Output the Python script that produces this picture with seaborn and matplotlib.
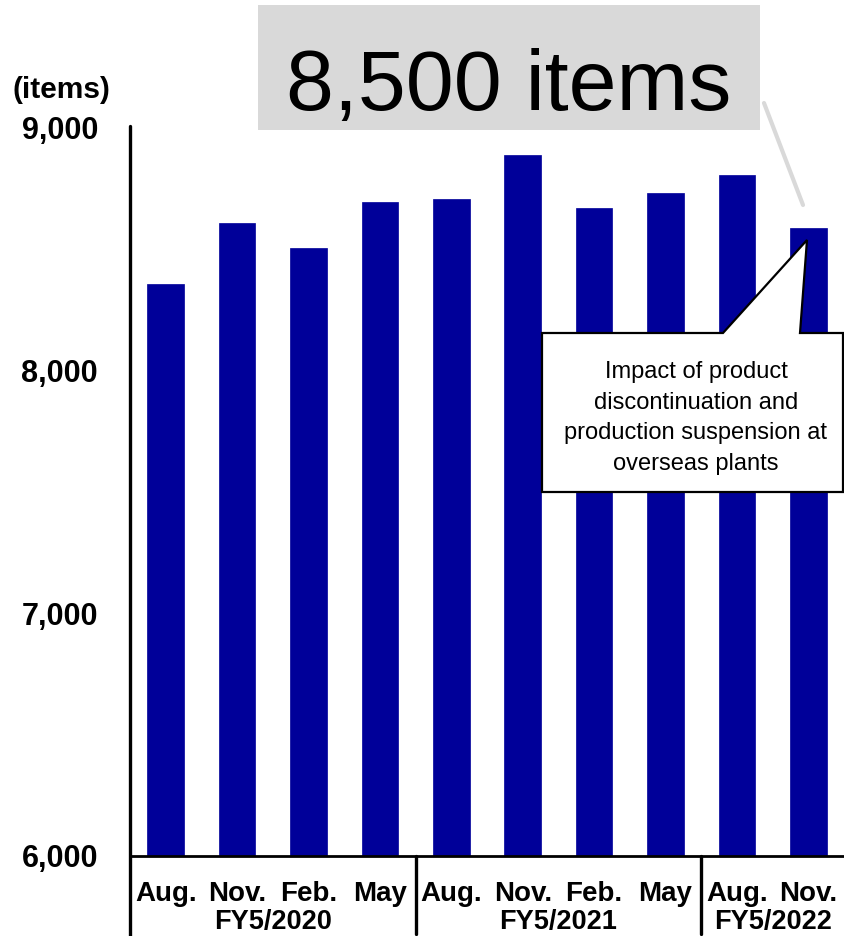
import matplotlib
matplotlib.use("Agg")
import matplotlib.pyplot as plt
import pandas as pd
import seaborn as sns
from matplotlib.lines import Line2D
from matplotlib.patches import Polygon, Rectangle
from matplotlib.transforms import blended_transform_factory

# Number of items handled, quarter-end figures
months = ["Aug.", "Nov.", "Feb.", "May", "Aug.", "Nov.", "Feb.", "May", "Aug.", "Nov."]
fiscal_years = ["FY5/2020", "FY5/2021", "FY5/2022"]
year_of_slot = [0, 0, 0, 0, 1, 1, 1, 1, 2, 2]
items = [8358, 8609, 8506, 8695, 8708, 8889, 8671, 8733, 8807, 8588]
y_ticks = [6000, 7000, 8000, 9000]
unit_label = "(items)"
headline = "8,500 items"
note = "Impact of product\ndiscontinuation and\nproduction suspension at\noverseas plants"

W, H = 844, 936
BAR_COLOR = "#000099"

sns.set_style("white")
plt.rcParams["font.family"] = ["Liberation Sans", "DejaVu Sans"]
plt.rcParams["text.color"] = "black"
plt.rcParams["xtick.color"] = "black"
plt.rcParams["ytick.color"] = "black"


def fx(px):
    return px / W


def fy(py):
    return 1 - py / H


fig = plt.figure(figsize=(W / 100, H / 100), dpi=100)
ax = fig.add_axes([fx(130), fy(856), fx(844) - fx(130), fy(128) - fy(856)])

df = pd.DataFrame({"slot": list(range(len(items))), "items": items})
sns.barplot(data=df, x="slot", y="items", color=BAR_COLOR, saturation=1,
            width=0.51, ax=ax, edgecolor=BAR_COLOR, linewidth=0.5)

ax.set_ylim(y_ticks[0], y_ticks[-1])
ax.set_xlim(-0.5, len(items) - 0.5)
ax.set_xlabel("")
ax.set_ylabel("")

for side in ("top", "right", "left"):
    ax.spines[side].set_visible(False)
ax.spines["bottom"].set_color("black")
ax.spines["bottom"].set_linewidth(2.0)

ax.set_yticks(y_ticks)
ax.set_yticklabels([f"{v:,}" for v in y_ticks], fontsize=22, fontweight="bold")
ax.tick_params(axis="y", length=0, pad=23)

ax.set_xticks(range(len(items)))
ax.set_xticklabels(months, fontsize=20, fontweight="bold")
ax.tick_params(axis="x", length=0, pad=18)

# left axis line running down past the category labels
fig.add_artist(Line2D([fx(130), fx(130)], [fy(126), fy(936)], color="black",
                      lw=2.4, transform=fig.transFigure))

# fiscal-year separators and group labels
bt = blended_transform_factory(ax.transData, fig.transFigure)
for xsep in (3.5, 7.5):
    ax.add_line(Line2D([xsep, xsep], [fy(856), fy(934)], color="black", lw=2.4,
                       transform=bt, clip_on=False))
for gi, name in enumerate(fiscal_years):
    slots = [i for i, g in enumerate(year_of_slot) if g == gi]
    cx = (slots[0] + slots[-1]) / 2
    ax.text(cx, fy(935), name, transform=bt, ha="center", va="bottom",
            fontsize=19.5, fontweight="bold")

fig.text(fx(13), fy(98), unit_label, ha="left", va="baseline",
         fontsize=21.5, fontweight="bold")

# headline box with a pointer line toward the latest bar
fig.add_artist(Rectangle((fx(258), fy(130)), fx(760) - fx(258), fy(5) - fy(130),
                         transform=fig.transFigure, facecolor="#D9D9D9",
                         edgecolor="none"))
fig.text(fx(509), fy(110), headline, ha="center", va="baseline", fontsize=62)
fig.add_artist(Line2D([fx(764), fx(803)], [fy(103), fy(205)], color="#D9D9D9",
                      lw=3, transform=fig.transFigure))

# speech-bubble callout
bubble = [(542, 333), (723, 333), (807, 240), (800, 333), (843, 333),
          (843, 492), (542, 492)]
fig.add_artist(Polygon([(fx(x), fy(y)) for x, y in bubble], closed=True,
                       transform=fig.transFigure, facecolor="white",
                       edgecolor="black", lw=1.6, joinstyle="miter"))
fig.text(fx(696), fy(418), note, ha="center", va="center", fontsize=17,
         linespacing=1.52)

fig.savefig("out.png", dpi=100)
